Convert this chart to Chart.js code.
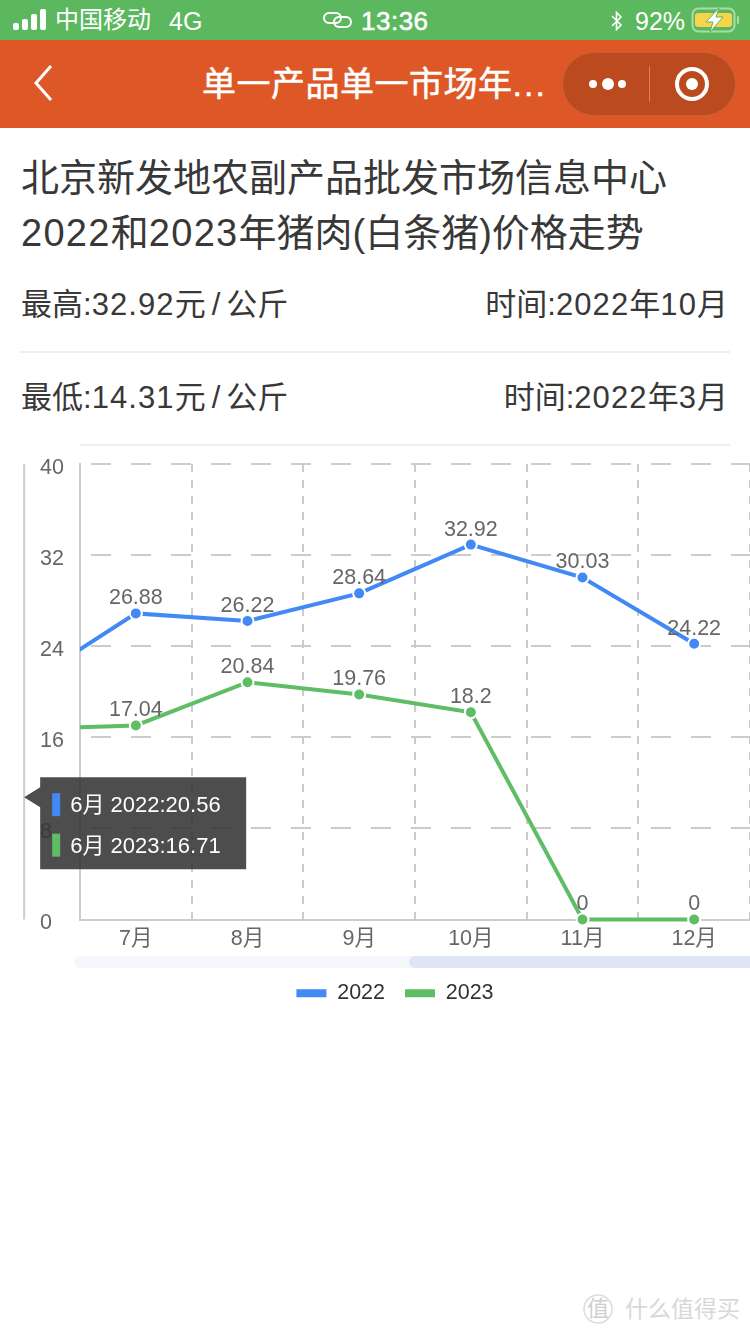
<!DOCTYPE html>
<html>
<head>
<meta charset="utf-8">
<title>2022和2023年猪肉(白条猪)价格走势</title>
<script src="https://cdn.jsdelivr.net/npm/chart.js@4"></script>
<style>
html, body { margin: 0; padding: 0; background: #fff; }
body { position: relative; width: 750px; height: 1334px; overflow: hidden; font-family: "Liberation Sans", "Noto Sans CJK SC", sans-serif; color: #383838; }
.abs { position: absolute; white-space: nowrap; }
.n1 { letter-spacing: 1.3px; }
.n2 { letter-spacing: 1.1px; }
.sl { margin: 0 6px; }
#status { position: absolute; left: 0; top: 0; width: 750px; height: 40px; background: #5cb85f; color: #fff; }
#nav { position: absolute; left: 0; top: 40px; width: 750px; height: 88px; background: #dd5826; color: #fff; }
#capsule { position: absolute; left: 562px; top: 12px; width: 174px; height: 64px; box-sizing: border-box; border: 1px solid #c9623a; border-radius: 32px; background: #bc4a1f; }
.rule { position: absolute; height: 2px; background: #eeeeee; }
#chartBox { position: absolute; left: 0; top: 440px; width: 750px; height: 574px; }
#scrollBg { position: absolute; left: 74px; top: 956px; width: 676px; height: 12px; border-radius: 6px 0 0 6px; background: #f5f7fd; }
#scrollFill { position: absolute; left: 409px; top: 956px; width: 341px; height: 12px; border-radius: 6px 0 0 6px; background: #dfe5f5; }
</style>
</head>
<body>
<div id="status">
  <svg class="abs" style="left:13px;top:9px" width="34" height="22">
    <rect x="0" y="14" width="6" height="7" rx="2" fill="#fff"/>
    <rect x="9" y="10" width="6" height="11" rx="2" fill="#fff"/>
    <rect x="18" y="5" width="6" height="16" rx="2" fill="#fff"/>
    <rect x="27" y="0" width="6" height="21" rx="2" fill="#fff"/>
  </svg>
  <div class="abs" style="left:55px;top:5px;font-size:24px;line-height:30px">中国移动</div>
  <div class="abs" style="left:169px;top:6px;font-size:25px;line-height:30px">4G</div>
  <svg class="abs" style="left:323px;top:11px" width="30" height="18" fill="none" stroke="#fff" stroke-width="2">
    <rect x="1" y="2" width="17" height="10" rx="5"/>
    <rect x="11" y="6" width="17" height="10" rx="5"/>
  </svg>
  <div class="abs" style="left:361px;top:6px;font-size:26px;line-height:30px;letter-spacing:0.5px;-webkit-text-stroke:0.5px #fff">13:36</div>
  <svg class="abs" style="left:610px;top:11px" width="14" height="20" fill="none" stroke="#fff" stroke-width="1.6">
    <path d="M2 5 L11 14 L6.5 18.5 L6.5 1.5 L11 6 L2 15"/>
  </svg>
  <div class="abs" style="left:635px;top:6px;font-size:25px;line-height:30px">92%</div>
  <svg class="abs" style="left:690px;top:7px" width="52" height="26">
    <rect x="2.5" y="1.5" width="42" height="23" rx="6" fill="none" stroke="#a9dcab" stroke-width="2"/>
    <rect x="5" y="5" width="37" height="14" rx="3" fill="#f7d44a" transform="translate(0 1)"/>
    <rect x="47" y="9" width="2" height="8" rx="1" fill="#a9dcab"/>
    <path d="M29 1 L16 15 L23 15 L20 25 L33 10 L26 10 Z" fill="#fff" stroke="#5cb85f" stroke-width="1"/>
  </svg>
</div>
<div id="nav">
  <svg class="abs" style="left:32px;top:24px" width="24" height="38" fill="none" stroke="#fff" stroke-width="3">
    <path d="M19 2 L4 19 L19 36"/>
  </svg>
  <div class="abs" style="left:202px;top:22px;font-size:34px;line-height:44px;letter-spacing:0.5px;-webkit-text-stroke:0.5px #fff">单一产品单一市场年<span style="letter-spacing:2px">...</span></div>
  <div id="capsule">
    <svg class="abs" style="left:0;top:0" width="172" height="62" fill="#fff">
      <circle cx="30" cy="31" r="4"/><circle cx="45" cy="31" r="6"/><circle cx="59" cy="31" r="4"/>
      <rect x="86" y="13" width="1" height="36" fill="#d9805f"/>
      <circle cx="129" cy="31" r="15" fill="none" stroke="#fff" stroke-width="4"/>
      <circle cx="129" cy="31" r="6"/>
    </svg>
  </div>
</div>

<div class="abs" style="left:21px;top:150px;font-size:38px;line-height:56px;">北京新发地农副产品批发市场信息中心</div>
<div class="abs" style="left:21px;top:205px;font-size:38px;line-height:56px;"><span class="n1">2022</span>和<span class="n1">2023</span>年猪肉(白条猪)价格走势</div>
<div class="abs" style="left:21px;top:283px;font-size:31px;line-height:44px;">最高:<span class="n2">32.92</span>元<span class="sl">/</span>公斤</div>
<div class="abs" style="right:22px;top:283px;font-size:31px;line-height:44px;">时间:<span class="n2">2022</span>年<span class="n2">10</span>月</div>
<div class="rule" style="left:20px;top:351px;width:710px"></div>
<div class="abs" style="left:21px;top:376px;font-size:31px;line-height:44px;">最低:<span class="n2">14.31</span>元<span class="sl">/</span>公斤</div>
<div class="abs" style="right:22px;top:376px;font-size:31px;line-height:44px;">时间:<span class="n2">2022</span>年<span class="n2">3</span>月</div>
<div class="rule" style="left:80px;top:444px;width:650px"></div>

<div id="chartBox"><canvas id="priceChart" width="750" height="574"></canvas></div>
<div id="scrollBg"></div>
<div id="scrollFill"></div>

<!-- watermark -->
<svg class="abs" style="left:581px;top:1292px" width="34" height="34" fill="none" stroke="#dcdcdc" stroke-width="1.5">
  <circle cx="17" cy="17" r="14"/>
</svg>
<div class="abs" style="left:587px;top:1295px;font-size:22px;line-height:28px;color:#cfcfcf">值</div>
<div class="abs" style="left:625px;top:1293px;font-size:23px;line-height:32px;color:#d8d8d8">什么值得买</div>

<script>
// Chart data
const months = ['6月', '7月', '8月', '9月', '10月', '11月', '12月'];
const prices2022 = [20.56, 26.88, 26.22, 28.64, 32.92, 30.03, 24.22];
const prices2023 = [16.71, 17.04, 20.84, 19.76, 18.2, 0, 0];
const yTicks = [0, 8, 16, 24, 32, 40];
const firstVisible = '7月';
const lastVisible = '12月';
const tooltipMonth = '6月';

const blue = '#4289f5';
const green = '#5fbd66';
const axisColor = '#cccccc';
const textColor = '#666666';
const fontFamily = '"Liberation Sans", "Noto Sans CJK SC", sans-serif';

// Value labels above each visible point
const valueLabels = {
    id: 'valueLabels',
    afterDatasetsDraw(chart) {
        const ctx = chart.ctx;
        ctx.save();
        ctx.font = '21.5px ' + fontFamily;
        ctx.fillStyle = textColor;
        ctx.textAlign = 'center';
        ctx.textBaseline = 'middle';
        chart.data.datasets.forEach((ds, d) => {
            chart.getDatasetMeta(d).data.forEach((pt, i) => {
                if (months[i] === tooltipMonth) return;
                ctx.fillText(String(ds.data[i]), pt.x, pt.y - 15);
            });
        });
        ctx.restore();
    }
};

// The y axis line of the unscrolled chart, sits at the hidden first month
const offsetAxis = {
    id: 'offsetAxis',
    beforeDatasetsDraw(chart) {
        const ctx = chart.ctx;
        const x = chart.scales.x.getPixelForValue(months.indexOf(tooltipMonth));
        ctx.save();
        ctx.strokeStyle = axisColor;
        ctx.lineWidth = 2;
        ctx.beginPath();
        ctx.moveTo(x, chart.chartArea.top);
        ctx.lineTo(x, chart.chartArea.bottom);
        ctx.stroke();
        ctx.restore();
    }
};

// Tooltip with a caret near its top, the built in one only centres it
const monthTooltip = {
    id: 'monthTooltip',
    afterDraw(chart) {
        const ctx = chart.ctx;
        const i = months.indexOf(tooltipMonth);
        const tipX = chart.scales.x.getPixelForValue(i);
        const boxX = tipX + 16;
        const boxY = chart.scales.y.getPixelForValue(12.5);
        const boxW = 206;
        const boxH = 92;
        ctx.save();
        ctx.fillStyle = 'rgba(50,50,50,0.87)';
        ctx.beginPath();
        ctx.moveTo(tipX, boxY + 20);
        ctx.lineTo(boxX, boxY + 10);
        ctx.lineTo(boxX, boxY);
        ctx.lineTo(boxX + boxW, boxY);
        ctx.lineTo(boxX + boxW, boxY + boxH);
        ctx.lineTo(boxX, boxY + boxH);
        ctx.lineTo(boxX, boxY + 30);
        ctx.closePath();
        ctx.fill();
        ctx.font = '22px ' + fontFamily;
        ctx.textBaseline = 'middle';
        ctx.textAlign = 'left';
        chart.data.datasets.forEach((ds, d) => {
            const y = boxY + 27 + d * 40.5;
            ctx.fillStyle = ds.borderColor;
            ctx.fillRect(boxX + 12, y - 11, 8, 23);
            ctx.fillStyle = '#ffffff';
            ctx.fillText(months[i] + ' ' + ds.label + ':' + ds.data[i], boxX + 30, y + 2);
        });
        ctx.restore();
    }
};

function makeSeries(label, values, color) {
    return {
        label: label,
        data: values,
        borderColor: color,
        backgroundColor: color,
        borderWidth: 4,
        pointRadius: 6,
        pointHoverRadius: 6,
        pointBackgroundColor: color,
        pointBorderColor: '#ffffff',
        pointBorderWidth: 2,
        tension: 0,
        clip: { left: 0, right: 0, top: false, bottom: false }
    };
}

new Chart(document.getElementById('priceChart'), {
    type: 'line',
    data: {
        labels: months,
        datasets: [
            makeSeries('2022', prices2022, blue),
            makeSeries('2023', prices2023, green)
        ]
    },
    plugins: [valueLabels, offsetAxis, monthTooltip],
    options: {
        responsive: false,
        animation: false,
        events: [],
        layout: { autoPadding: false, padding: { top: 24, right: 0, left: 40, bottom: 0 } },
        plugins: {
            tooltip: { enabled: false },
            legend: {
                position: 'bottom',
                labels: {
                    boxWidth: 30,
                    boxHeight: 8,
                    padding: 20,
                    color: '#333333',
                    font: { family: fontFamily, size: 21.5 },
                    generateLabels(chart) {
                        const items = Chart.defaults.plugins.legend.labels.generateLabels(chart);
                        items.forEach(item => { item.lineWidth = 0; });
                        return items;
                    }
                }
            }
        },
        scales: {
            x: {
                type: 'category',
                min: firstVisible,
                max: lastVisible,
                offset: true,
                afterFit(scale) {
                    scale.height = 43;
                    scale.paddingLeft = 0;
                    scale.paddingRight = 0;
                },
                grid: {
                    offset: true,
                    drawTicks: false,
                    color: axisColor,
                    lineWidth: 2
                },
                border: { display: true, color: axisColor, width: 2, dash: [8, 8] },
                ticks: {
                    color: textColor,
                    font: { family: fontFamily, size: 21.5 },
                    padding: 7,
                    maxRotation: 0,
                    autoSkip: false
                }
            },
            y: {
                min: 0,
                max: 40,
                afterBuildTicks(scale) { scale.ticks = yTicks.map(v => ({ value: v })); },
                afterFit(scale) {
                    scale.width = 40;
                    scale.paddingTop = 0;
                    scale.paddingBottom = 0;
                },
                grid: {
                    drawTicks: false,
                    color: axisColor,
                    lineWidth: 2
                },
                border: { display: true, color: axisColor, width: 2, dash: [20, 20], dashOffset: 30 },
                ticks: {
                    color: textColor,
                    font: { family: fontFamily, size: 21.5 },
                    crossAlign: 'far',
                    labelOffset: 4
                }
            }
        }
    }
});
</script>
</body>
</html>
